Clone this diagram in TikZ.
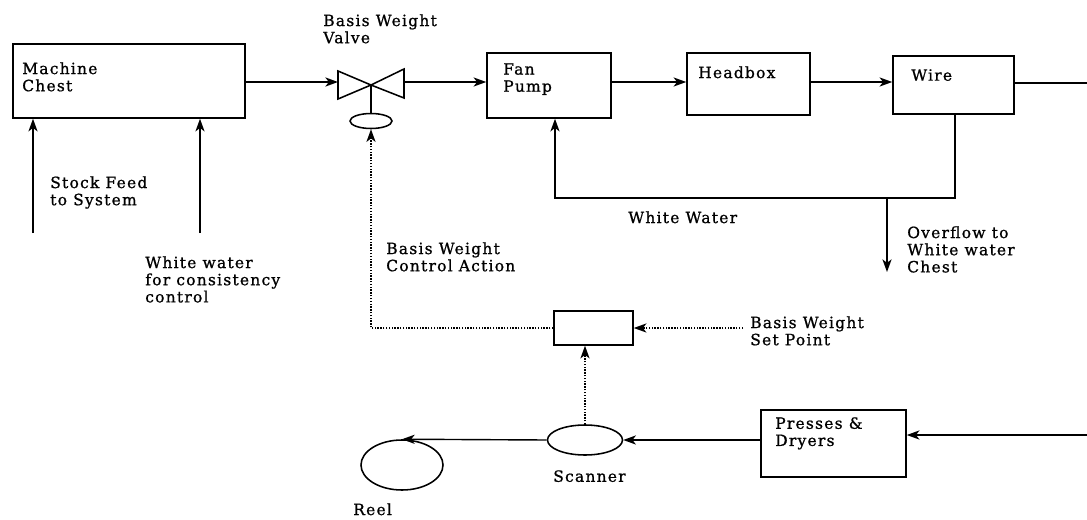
\documentclass[tikz,border=0pt]{standalone}
\usepackage{fontspec}
\setmainfont[LetterSpace=8,FakeBold=1]{DejaVu Serif}
\usetikzlibrary{arrows.meta, shapes.geometric, positioning, calc}

\begin{document}
\begin{tikzpicture}[x=0.025cm, y=-0.025cm,
  blk/.style={draw, line width=1.1pt, inner sep=0pt},
  txt/.style={anchor=north west, inner sep=0pt, align=left, font=\fontsize{11}{12.2}\selectfont},
  flow/.style={line width=1pt, -{Stealth[length=9pt,width=6.5pt,inset=2.5pt]}},
  ctrl/.style={flow, densely dotted}]
\useasboundingbox (0,0) rectangle (1087,520);
\node[blk, minimum width=5.8cm, minimum height=1.85cm] (chest) at (129,81) {};
\node[blk, minimum width=3.1cm, minimum height=1.625cm] (fan) at (549,85.5) {};
\node[blk, minimum width=3.075cm, minimum height=1.55cm] (headbox) at (748.5,84) {};
\node[blk, minimum width=3.025cm, minimum height=1.45cm] (wire) at (953.5,85) {};
\node[blk, minimum width=1.975cm, minimum height=0.85cm] (controller) at (593.5,328) {};
\node[blk, minimum width=3.625cm, minimum height=1.675cm] (presses) at (833.5,443.5) {};
\node[blk, ellipse, minimum width=1.05cm, minimum height=0.375cm] (actuator) at (371,121) {};
\node[blk, ellipse, minimum width=1.875cm, minimum height=0.75cm] (scanner) at (585,440) {};
\node[blk, ellipse, minimum width=2.05cm, minimum height=1.25cm] (reel) at (402,465) {};
\coordinate (vmid) at (371,85);
\coordinate (vin) at (338,82);
\coordinate (vout) at (404,82);
\draw[line width=1.1pt] (338,71) -- (338,99) -- (vmid) -- cycle;
\draw[line width=1.1pt] (vmid) -- (404,69) -- (404,98) -- cycle;
\draw[line width=1.1pt] (vmid) -- (actuator.north);
\coordinate (mainy) at (0,82);
\draw[flow] (chest.east |- mainy) -- (vin);
\draw[flow] (vout) -- (fan.west |- mainy);
\draw[flow] (fan.east |- mainy) -- (headbox.west |- mainy);
\draw[flow] (headbox.east |- mainy) -- (wire.west |- mainy);
\coordinate (wireout) at (1087,83);
\draw[line width=1pt] (wire.east |- wireout) -- (wireout);
\coordinate (stock) at (33,233);
\coordinate (dilution) at (200,233);
\draw[flow] (stock) -- (stock |- chest.south);
\draw[flow] (dilution) -- (dilution |- chest.south);
\coordinate (wwcorner) at (955,198);
\coordinate (wwleft) at (555,198);
\coordinate (overflow) at (887,272);
\draw[flow] (wire.south -| wwcorner) -- (wwcorner) -- (wwleft) -- (wwleft |- fan.south);
\draw[flow] (overflow |- wwcorner) -- (overflow);
\coordinate (cbend) at (371,328);
\draw[ctrl] (controller.west) -- (cbend) -- (actuator.south);
\coordinate (setpoint) at (743,328);
\draw[ctrl] (setpoint) -- (controller.east);
\draw[ctrl] (scanner.north) -- (scanner.north |- controller.south);
\coordinate (dryin) at (1087,435);
\draw[flow] (dryin) -- (presses.east |- dryin);
\draw[flow] (presses.west |- scanner.east) -- (scanner.east);
\draw[flow] (scanner.west) -- (reel.north);
\node[txt] (chestlbl) at (22,62) {Machine\\Chest};
\node[txt] (valvelbl) at (323,14) {Basis Weight\\Valve};
\node[txt] (fanlbl) at (503,63) {Fan\\Pump};
\node[txt] (headboxlbl) at (698,66) {Headbox};
\node[txt] (wirelbl) at (911,69) {Wire};
\node[txt] (stocklbl) at (50,176) {Stock Feed\\to System};
\node[txt] (dilutionlbl) at (145,256) {White water\\for consistency\\control};
\node[txt] (actionlbl) at (386,242) {Basis Weight\\Control Action};
\node[txt] (wwlbl) at (628,211) {White Water};
\node[txt] (overflowlbl) at (907,226) {Overflow to\\White water\\Chest};
\node[txt] (setpointlbl) at (750,316) {Basis Weight\\Set Point};
\node[txt] (presseslbl) at (775,417) {Presses \&\\Dryers};
\node[txt] (scannerlbl) at (553,470) {Scanner};
\node[txt] (reellbl) at (353,503) {Reel};
\end{tikzpicture}
\end{document}
